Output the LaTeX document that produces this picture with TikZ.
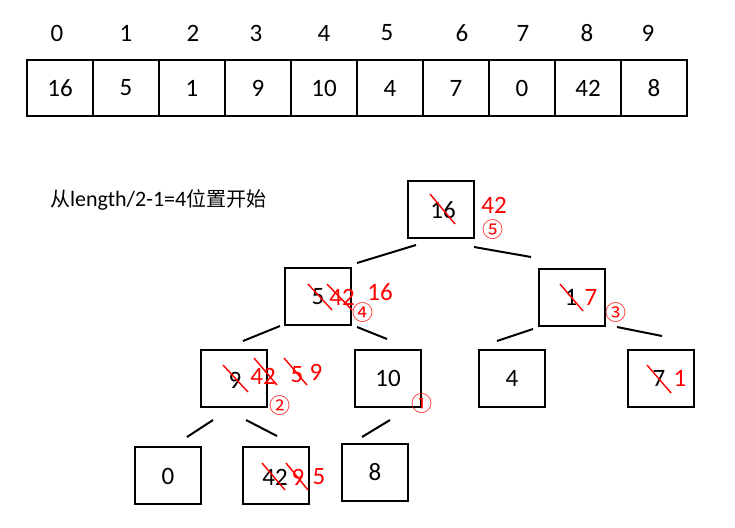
\documentclass[tikz,border=0pt]{standalone}
\usepackage{fontspec}
\setmainfont{Carlito}
\newfontfamily\cjk{Noto Sans CJK SC}
\newcommand\dfont{\fontsize{25}{29}\selectfont}
\newcommand\cfont{\cjk\fontsize{21}{24}\selectfont}
\begin{document}
\begin{tikzpicture}[x=1pt,y=-1pt,
  cell/.style={draw, line width=2pt, minimum width=66pt, minimum height=56pt, inner sep=0pt, font=\dfont},
  tbox/.style={draw, line width=2pt, minimum width=66pt, minimum height=57pt, inner sep=0pt},
  idx/.style={font=\dfont, inner sep=0pt},
  btext/.style={font=\dfont, inner sep=0pt},
  rtext/.style={font=\dfont, text=red, inner sep=0pt},
  circ/.style={font=\cfont, text=red, inner sep=0pt},
  strike/.style={draw=red, line width=1.4pt},
  edgeline/.style={line width=2pt}]
\useasboundingbox (0,0) rectangle (735,527);

% index labels
\foreach \x/\t [count=\i from 0] in {57/0,126/1,193/2,256/3,324/4,387/5,462/6,523/7,587/8,648/9}
  \node[idx] (i\i) at (\x,33) {\t};

% array cells
\foreach \t [count=\i from 0] in {16,5,1,9,10,4,7,0,42,8}
  \node[cell] (c\i) at (60+66*\i,88) {\t};

% caption
\node[anchor=west, inner sep=0pt] (cap) at (50,200)
  {{\cjk\fontsize{20}{23}\selectfont 从}\fontsize{22}{25}\selectfont length/2-1=4{\cjk\fontsize{20}{23}\selectfont 位置开始}};

% tree boxes
\node[tbox] (n0) at (440.5,209) {};
\node[tbox] (n1) at (317.5,296.5) {};
\node[tbox] (n2) at (571.5,297) {};
\node[tbox] (n3) at (234,378.5) {};
\node[tbox] (n4) at (388,378) {};
\node[tbox] (n5) at (512,378) {};
\node[tbox] (n6) at (661,378) {};
\node[tbox] (n7) at (168,475.5) {};
\node[tbox] (n8) at (275.5,475.5) {};
\node[tbox] (n9) at (375,472.5) {};

% edges
\coordinate (a1) at (357,263); \coordinate (a2) at (416,245);
\coordinate (b1) at (474,247); \coordinate (b2) at (531,257);
\coordinate (c1) at (243,341); \coordinate (c2) at (280,326);
\coordinate (d1) at (357,327); \coordinate (d2) at (387,339);
\coordinate (e1) at (497,341); \coordinate (e2) at (533,329);
\coordinate (f1) at (617,327); \coordinate (f2) at (662,336);
\coordinate (g1) at (187,437); \coordinate (g2) at (213,420);
\coordinate (h1) at (246,420); \coordinate (h2) at (277,436);
\coordinate (k1) at (362,437); \coordinate (k2) at (390,420);
\draw[edgeline] (a1) -- (a2);
\draw[edgeline] (b1) -- (b2);
\draw[edgeline] (c1) -- (c2);
\draw[edgeline] (d1) -- (d2);
\draw[edgeline] (e1) -- (e2);
\draw[edgeline] (f1) -- (f2);
\draw[edgeline] (g1) -- (g2);
\draw[edgeline] (h1) -- (h2);
\draw[edgeline] (k1) -- (k2);

% root
\node[btext] (t0) at (443,210) {16};
\draw[strike] (430,194) -- (455,224);
\node[rtext] (r0) at (494,205) {42};
\node[circ] (q5) at (493,230) {⑤};

% node 5
\node[btext] (t1) at (318,297) {5};
\draw[strike] (308,284) -- (332,310);
\node[rtext] (r1a) at (342,297) {42};
\draw[strike] (327,284) -- (352,310);
\node[rtext] (r1b) at (380,292) {16};
\node[circ] (q4) at (363,313) {④};

% node 1
\node[btext] (t2) at (571,297) {1};
\draw[strike] (560,284) -- (583,311);
\node[rtext] (r2) at (591,297) {7};
\node[circ] (q3) at (616,313) {③};

% node 9
\node[btext] (t3) at (235,380) {9};
\draw[strike] (223,365) -- (248,392);
\node[rtext] (r3a) at (263,376) {42};
\draw[strike] (254,358) -- (277,385);
\node[rtext] (r3b) at (297,375) {5};
\draw[strike] (284,358) -- (307,385);
\node[rtext] (r3c) at (316,372) {9};
\node[circ] (q2) at (280,406) {②};

% node 10
\node[btext] (t4) at (388,378) {10};
\node[circ] (q1) at (422,404) {①};

% node 4
\node[btext] (t5) at (512,378) {4};

% node 7
\node[btext] (t6) at (659,378) {7};
\draw[strike] (647,365) -- (671,393);
\node[rtext] (r6) at (680,378) {1};

% bottom
\node[btext] (t7) at (168,476) {0};
\node[btext] (t8) at (275,477) {42};
\draw[strike] (262,463) -- (285,490);
\node[rtext] (r8a) at (298,477) {9};
\draw[strike] (286,463) -- (308,490);
\node[rtext] (r8b) at (319,477) {5};
\node[btext] (t9) at (375,472) {8};
\end{tikzpicture}
\end{document}
